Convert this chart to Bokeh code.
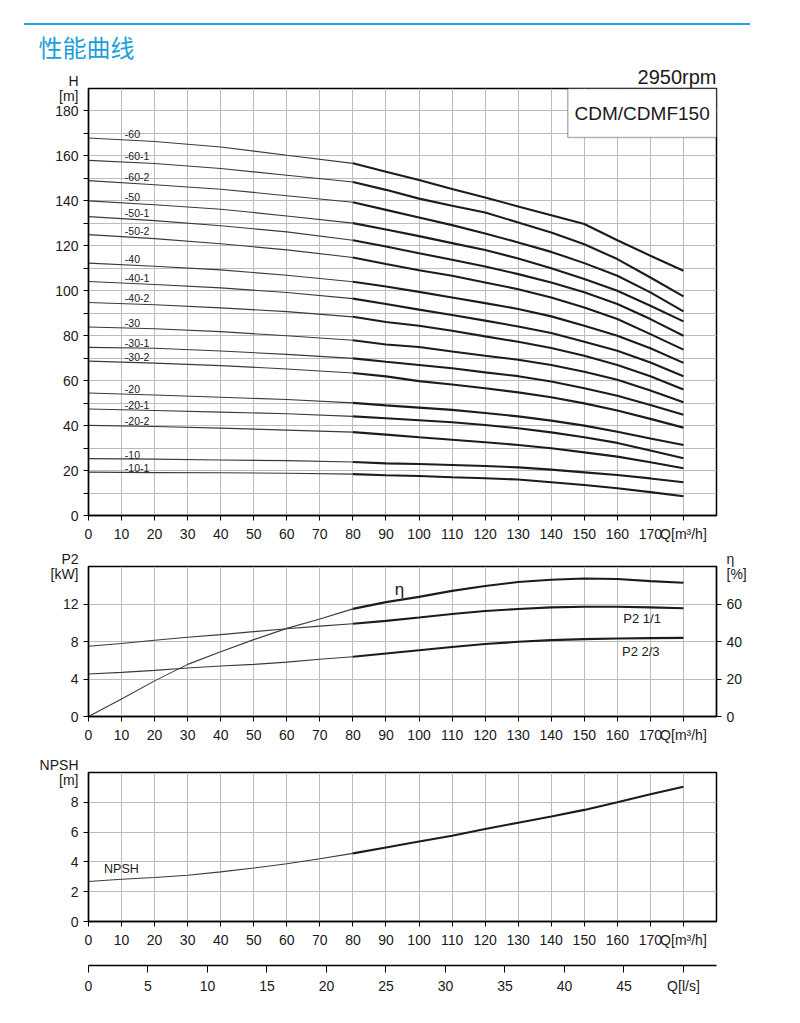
from bokeh.plotting import figure
from bokeh.layouts import column
from bokeh.models import Range1d, LinearAxis, FixedTicker, Label, BoxAnnotation, Title, Div
from bokeh.core.properties import value
from bokeh.embed import file_html
from bokeh.resources import INLINE

FONT = "Liberation Sans"
CJK = "Noto Sans CJK SC"

# ---------------- data ----------------
# H-Q curves (Q in m3/h)
Q_H = [0, 20, 40, 60, 80, 90, 100, 110, 120, 130, 140, 150, 160, 170, 180]
curve_names = ["-60", "-60-1", "-60-2", "-50", "-50-1", "-50-2", "-40", "-40-1", "-40-2",
               "-30", "-30-1", "-30-2", "-20", "-20-1", "-20-2", "-10", "-10-1"]
H_60 = [168, 166.4, 164, 160.3, 156.7, 153.0, 149.3, 145.3, 141.5, 137.5, 133.6, 129.7, 122.5, 115.6, 108.9]
H_60_1 = [158, 156.6, 154.4, 151.4, 148.4, 144.9, 141.0, 137.8, 134.8, 130.4, 125.9, 120.7, 114.1, 105.9, 97.5]
H_60_2 = [149, 147.2, 145.2, 142.3, 139.4, 136.0, 132.6, 129.2, 125.5, 121.5, 117.3, 112.3, 106.7, 99.3, 90.8]
H_50 = [140, 138.3, 136.3, 133.3, 130.1, 127.3, 124.3, 121.2, 118.1, 114.4, 110.0, 105.2, 100.0, 93.3, 86.4]
H_50_1 = [133, 131.2, 128.9, 126.2, 122.5, 119.7, 116.7, 113.8, 110.8, 107.4, 103.7, 99.3, 94.1, 87.4, 80.0]
H_50_2 = [125, 123.2, 120.9, 118.2, 114.8, 111.9, 109.1, 106.7, 103.7, 100.7, 97.0, 92.6, 87.4, 80.7, 73.8]
H_40 = [112.3, 110.9, 109.3, 106.9, 104.0, 101.9, 99.5, 97.0, 94.5, 91.9, 88.6, 84.4, 80.0, 74.4, 67.9]
H_40_1 = [104.1, 102.8, 101.3, 99.2, 96.5, 94.1, 91.6, 89.2, 86.7, 84.1, 81.2, 77.3, 73.3, 68.1, 62.0]
H_40_2 = [94.8, 93.8, 92.4, 90.7, 88.4, 86.1, 84.4, 82.2, 79.7, 77.3, 74.5, 71.1, 67.0, 62.0, 56.1]
H_30 = [83.9, 83.1, 81.8, 80.0, 78.0, 76.1, 75.0, 73.0, 71.1, 69.3, 67.0, 64.0, 60.4, 55.6, 50.4]
H_30_1 = [74.8, 74.4, 73.2, 71.7, 69.9, 68.4, 67.0, 65.5, 63.7, 62.0, 59.6, 56.6, 53.3, 49.2, 44.8]
H_30_2 = [68.7, 67.8, 66.7, 65.2, 63.4, 61.9, 59.8, 58.3, 56.6, 54.8, 52.6, 49.9, 46.7, 43.0, 39.1]
H_20 = [54.5, 53.6, 52.6, 51.6, 50.1, 49.0, 48.0, 47.0, 45.6, 44.1, 42.2, 40.0, 37.3, 34.3, 31.4]
H_20_1 = [47.4, 46.7, 46.0, 45.3, 44.1, 43.3, 42.4, 41.5, 40.3, 38.8, 37.0, 34.8, 32.3, 28.9, 25.5]
H_20_2 = [40.1, 39.6, 38.9, 38.0, 37.1, 36.0, 34.8, 33.7, 32.6, 31.4, 29.9, 28.1, 26.2, 23.7, 21.0]
H_10 = [25.3, 25.1, 24.7, 24.4, 23.8, 23.2, 22.9, 22.5, 22.0, 21.4, 20.4, 19.2, 18.0, 16.5, 14.8]
H_10_1 = [19.3, 19.1, 19.0, 18.8, 18.4, 17.9, 17.6, 17.0, 16.6, 16.0, 14.8, 13.6, 12.1, 10.4, 8.6]
H_curves = [H_60, H_60_1, H_60_2, H_50, H_50_1, H_50_2, H_40, H_40_1, H_40_2,
            H_30, H_30_1, H_30_2, H_20, H_20_1, H_20_2, H_10, H_10_1]

# power / efficiency / NPSH curves
Q = [0, 10, 20, 30, 40, 50, 60, 70, 80, 90, 100, 110, 120, 130, 140, 150, 160, 170, 180]
eta = [0, 9.3, 19, 27.8, 34.5, 41, 47, 52, 57.4, 61, 63.8, 67, 69.6, 71.7, 72.9, 73.6, 73.3, 72.2, 71.3]
p2_full = [7.5, 7.78, 8.13, 8.45, 8.73, 9.05, 9.36, 9.64, 9.9, 10.2, 10.56, 10.94, 11.26, 11.47, 11.64, 11.71, 11.71, 11.64, 11.54]
p2_two_thirds = [4.54, 4.71, 4.92, 5.17, 5.38, 5.56, 5.8, 6.1, 6.37, 6.72, 7.06, 7.41, 7.73, 7.97, 8.15, 8.25, 8.32, 8.36, 8.39]
npsh = [2.68, 2.84, 2.95, 3.1, 3.33, 3.59, 3.88, 4.21, 4.57, 4.97, 5.37, 5.76, 6.21, 6.63, 7.05, 7.49, 8.0, 8.54, 9.05]

# ticks
q_ticks = [0, 10, 20, 30, 40, 50, 60, 70, 80, 90, 100, 110, 120, 130, 140, 150, 160, 170, 180]
h_labels = [0, 20, 40, 60, 80, 100, 120, 140, 160, 180, 190]
h_marks = [0, 10, 20, 30, 40, 50, 60, 70, 80, 90, 100, 110, 120, 130, 140, 150, 160, 170, 180]
p2_labels = [0, 4, 8, 12, 16]
p2_marks = [0, 4, 8, 12]
eta_labels = [0, 20, 40, 60, 80]
eta_marks = [0, 20, 40, 60]
npsh_labels = [0, 2, 4, 6, 8, 10]
npsh_marks = [0, 2, 4, 6, 8]
ls_ticks = [0, 5, 10, 15, 20, 25, 30, 35, 40, 45, 50]
Q_MAX = 190
LS_MAX = Q_MAX / 3.6

# ---------------- style ----------------
W = 800
LB, RB = 88, 84
GRID = "#bcbcbc"
THIN = "#3a3a3a"
THICK = "#1c1c1c"
BLUE = "#1e9fdc"
BLUE_LINE = "#22a6e6"
TICK_FS = "14px"


def style_axis(ax):
    ax.axis_line_color = "black"
    ax.axis_line_width = 1.3
    ax.major_tick_line_color = "black"
    ax.minor_tick_line_color = "black"
    ax.major_tick_out = 5
    ax.major_tick_in = 0
    ax.minor_tick_out = 5
    ax.minor_tick_in = 0
    ax.major_label_text_font = FONT
    ax.major_label_text_font_size = TICK_FS
    ax.major_label_text_color = "#1a1a1a"
    ax.major_label_standoff = 5


def label_axis(ax, labels, marks, header):
    """Labels on `labels`, tick marks only on `marks`; top label is the unit header."""
    ax.ticker = FixedTicker(ticks=labels, minor_ticks=marks)
    ax.major_tick_line_color = None
    ax.major_label_overrides = {labels[-1]: header}
    ax.major_label_text_line_height = 0.95


def base_fig(height, top, bottom, y_end):
    p = figure(width=W, height=height, x_range=Range1d(0, Q_MAX), y_range=Range1d(0, y_end),
               min_border_left=LB, min_border_right=RB, min_border_top=top,
               min_border_bottom=bottom, toolbar_location=None, output_backend="svg")
    p.outline_line_color = "black"
    p.outline_line_width = 1.5
    p.background_fill_color = "white"
    p.border_fill_color = "white"
    p.grid.grid_line_color = GRID
    p.grid.grid_line_width = 1
    p.ygrid.minor_grid_line_color = GRID
    p.xaxis.ticker = FixedTicker(ticks=q_ticks)
    p.xaxis.major_label_overrides = {180: "Q[m³/h]"}
    for ax in p.xaxis + p.yaxis:
        style_axis(ax)
    return p


def lbl(p, x, y, text, size="14px", align="center", font=FONT, color="#1a1a1a", baseline="middle"):
    p.add_layout(Label(x=x, y=y, text=text, text_font=font, text_font_size=size,
                       text_align=align, text_baseline=baseline, text_color=color))


def split_line(p, xs, ys, **kw):
    i = xs.index(80)
    p.line(xs[:i + 1], ys[:i + 1], line_color=THIN, line_width=1.1, **kw)
    p.line(xs[i:], ys[i:], line_color=THICK, line_width=2.1, **kw)


# ---------------- header (blue rule) ----------------
hdr = Div(text='<div style="padding-top:23px;padding-left:24px;margin:0;">'
               '<div style="width:726px;height:2px;background:%s;"></div></div>' % BLUE_LINE,
          width=W, height=25, margin=0)

# ---------------- H-Q chart ----------------
p1 = base_fig(520, 63, 30, 190)
label_axis(p1.yaxis[0], h_labels, h_marks, "H\n[m]")
for hs in H_curves:
    split_line(p1, Q_H, hs)
p1.text(x=[11] * len(curve_names), y=[hs[0] for hs in H_curves], text=curve_names,
        text_font=value(FONT), text_font_size=value("10.5px"), text_color="#1a1a1a",
        text_baseline="bottom", text_align="left")
p1.add_layout(BoxAnnotation(left=145, right=190, bottom=168.2, top=190, fill_color="white",
                            fill_alpha=1, line_color="black", line_width=1.5))
lbl(p1, 167.5, 179, "CDM/CDMF150", size="19px")
p1.add_layout(Title(text="2950rpm", align="right", text_font=FONT, text_font_size="20px",
                    text_font_style="normal", text_color="#1a1a1a", standoff=1), "above")
p1.add_layout(Title(text="性能曲线", align="left", offset=-50, text_font=CJK, text_font_size="24px",
                    text_font_style="normal", text_color=BLUE, standoff=0), "above")

# ---------------- P2 / eta chart ----------------
p2 = base_fig(200, 21, 27, 16)
label_axis(p2.yaxis[0], p2_labels, p2_marks, "P2\n[kW]")
p2.extra_y_ranges = {"eff": Range1d(0, 80)}
rax = LinearAxis(y_range_name="eff")
style_axis(rax)
label_axis(rax, eta_labels, eta_marks, "η\n[%]")
p2.add_layout(rax, "right")
split_line(p2, Q, eta, y_range_name="eff")
split_line(p2, Q, p2_full)
split_line(p2, Q, p2_two_thirds)
lbl(p2, 94.1, 13.6, "η", size="17px")
lbl(p2, 161.8, 10.5, "P2 1/1", size="13px", align="left")
lbl(p2, 161.4, 6.98, "P2 2/3", size="13px", align="left")

# ---------------- NPSH chart ----------------
p3 = base_fig(205, 27, 27, 10)
label_axis(p3.yaxis[0], npsh_labels, npsh_marks, "NPSH\n[m]")
split_line(p3, Q, npsh)
lbl(p3, 4.7, 3.51, "NPSH", size="12.5px", align="left")

# ---------------- l/s axis ----------------
p4 = figure(width=W, height=60, x_range=Range1d(0, LS_MAX), y_range=Range1d(0, 1),
            min_border_left=LB, min_border_right=RB, min_border_top=0, min_border_bottom=45,
            toolbar_location=None, output_backend="svg", y_axis_location=None)
p4.grid.visible = False
p4.outline_line_color = None
p4.border_fill_color = "white"
p4.xaxis.ticker = FixedTicker(ticks=ls_ticks)
p4.xaxis.major_label_overrides = {50: "Q[l/s]"}
style_axis(p4.xaxis[0])
p4.xaxis.major_tick_out = 7

layout = column(hdr, p1, p2, p3, p4)
open("out.html", "w").write(file_html(layout, INLINE))
